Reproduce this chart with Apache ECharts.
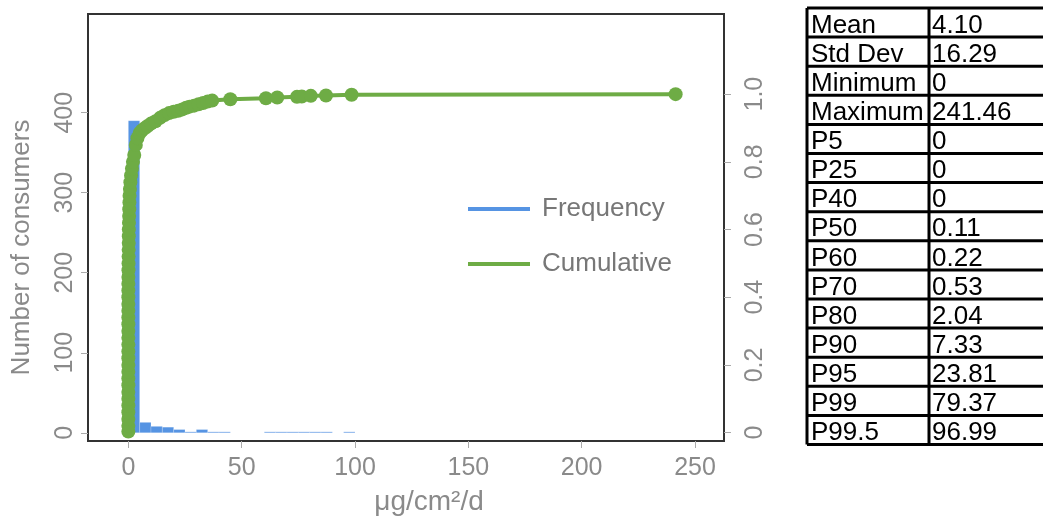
<!DOCTYPE html>
<html>
<head>
<meta charset="utf-8">
<script src="https://cdn.jsdelivr.net/npm/echarts@6/dist/echarts.min.js"></script>
<style>
html,body{margin:0;padding:0;background:#fff;}
#chart{width:1043px;height:517px;}
</style>
</head>
<body>
<div id="chart"></div>
<script>
// ---- Data ----
const binStarts = [0, 5, 10, 15, 20, 25, 30, 35, 40, 60, 65, 70, 75, 80, 85, 95];
const binCounts = [390, 13, 8, 7, 4, 1, 4, 1, 1, 1, 1, 1, 1, 1, 1, 1];
const binWidth = 5;

const cumX = [0, 0, 0, 0, 0, 0, 0, 0, 0, 0, 0, 0, 0, 0, 0, 0, 0, 0, 0, 0, 0, 0, 0,
  0.02, 0.05, 0.08, 0.11, 0.14, 0.17, 0.20, 0.22, 0.28, 0.34, 0.40, 0.47, 0.53, 0.7, 0.9, 1.2, 1.6, 2.04,
  2.6, 3.3, 4.0, 5.0, 6.0, 7.33, 8.5, 10, 12, 14, 16, 18, 20, 22, 23.81, 25.5, 27, 29, 31, 33, 35, 37,
  45, 60.7, 65.7, 74.4, 76.5, 80.5, 87.2, 98.5, 241.46];
const cumY = [0.003, 0.02, 0.04, 0.06, 0.08, 0.10, 0.12, 0.14, 0.16, 0.18, 0.20, 0.22, 0.24, 0.26, 0.28, 0.30, 0.32, 0.34, 0.36, 0.38, 0.40, 0.42, 0.44,
  0.46, 0.48, 0.50, 0.52, 0.54, 0.56, 0.58, 0.60, 0.62, 0.64, 0.66, 0.68, 0.70, 0.72, 0.74, 0.76, 0.78, 0.80,
  0.82, 0.85, 0.87, 0.885, 0.893, 0.90, 0.906, 0.913, 0.92, 0.93, 0.938, 0.944, 0.948, 0.951, 0.955, 0.96, 0.963, 0.966, 0.97, 0.974, 0.978, 0.981,
  0.985, 0.988, 0.990, 0.992, 0.993, 0.995, 0.996, 0.998, 1.0];

const xTicks = [0, 50, 100, 150, 200, 250];
const yLeftTicks = [0, 100, 200, 300, 400];
const yRightTicks = [0, 0.2, 0.4, 0.6, 0.8, 1.0];
const yRightLabels = ['0', '0.2', '0.4', '0.6', '0.8', '1.0'];

const statNames = ['Mean', 'Std Dev', 'Minimum', 'Maximum', 'P5', 'P25', 'P40', 'P50', 'P60', 'P70', 'P80', 'P90', 'P95', 'P99', 'P99.5'];
const statValues = ['4.10', '16.29', '0', '241.46', '0', '0', '0', '0.11', '0.22', '0.53', '2.04', '7.33', '23.81', '79.37', '96.99'];

// ---- Chart ----
const FONT = 'Liberation Sans, Arial, sans-serif';
const BLUE = '#5694e3';
const GREEN = '#6eac45';
const GRAY = '#8a8a8a';

const chart = echarts.init(document.getElementById('chart'));

const cumData = cumX.map((x, i) => [x, cumY[i]]);
const histData = binStarts.map((s, i) => [s, binCounts[i]]);

// table graphics
const tX0 = 807, tX1 = 929, tX2 = 1050, tY0 = 8, rowH = 29.1;
const graphics = [];
for (let i = 0; i <= statNames.length; i++) {
  const y = tY0 + i * rowH;
  graphics.push({type: 'line', shape: {x1: tX0, y1: y, x2: tX2, y2: y}, style: {stroke: '#000', lineWidth: 3}});
}
[tX0, tX1].forEach(x => {
  graphics.push({type: 'line', shape: {x1: x, y1: tY0, x2: x, y2: tY0 + statNames.length * rowH}, style: {stroke: '#000', lineWidth: 3}});
});
statNames.forEach((n, i) => {
  const cy = tY0 + i * rowH + rowH / 2 + 3;
  graphics.push({type: 'text', x: tX0 + 4, y: cy, style: {text: n, fill: '#000', font: '26px ' + FONT, verticalAlign: 'middle', align: 'left'}});
  graphics.push({type: 'text', x: tX1 + 3, y: cy, style: {text: statValues[i], fill: '#000', font: '26px ' + FONT, verticalAlign: 'middle', align: 'left'}});
});

const option = {
  backgroundColor: '#fff',
  animation: false,
  textStyle: {fontFamily: FONT},
  grid: {left: 88, right: 319, top: 14, bottom: 76, show: true, borderColor: '#333', borderWidth: 2,
    backgroundColor: 'transparent', containLabel: false, outerBoundsMode: 'none'},
  legend: {
    data: ['Frequency', 'Cumulative'],
    orient: 'vertical',
    left: 463, top: 191,
    icon: 'rect', itemWidth: 62, itemHeight: 4, itemGap: 29,
    textStyle: {color: '#777', fontSize: 26, fontFamily: FONT, padding: [0, 0, 0, 7]}
  },
  xAxis: {
    type: 'value', min: -17.8, max: 262.8,
    axisLine: {show: false, onZero: false},
    splitLine: {show: false},
    axisTick: {show: true, length: 7, lineStyle: {color: '#aaa'}, customValues: xTicks},
    axisLabel: {color: GRAY, fontSize: 25, margin: 15, customValues: xTicks, fontFamily: FONT},
    name: 'μg/cm²/d', nameLocation: 'middle', nameGap: 47,
    nameTextStyle: {color: GRAY, fontSize: 28, fontFamily: FONT, padding: [0, 0, 0, 46]}
  },
  yAxis: [{
    type: 'value', min: -10.3, max: 523.4, position: 'left',
    axisLine: {show: false, onZero: false},
    splitLine: {show: false},
    axisTick: {show: true, length: 7, lineStyle: {color: '#aaa'}, customValues: yLeftTicks},
    axisLabel: {color: GRAY, fontSize: 25, rotate: 90, margin: 10, customValues: yLeftTicks, fontFamily: FONT},
    name: 'Number of consumers', nameLocation: 'middle', nameGap: 53,
    nameTextStyle: {color: GRAY, fontSize: 26, fontFamily: FONT, padding: [0, 40, 0, 0]}
  }, {
    type: 'value', min: -0.0248, max: 1.2368, position: 'right',
    axisLine: {show: false, onZero: false},
    splitLine: {show: false},
    axisTick: {show: true, length: 7, lineStyle: {color: '#aaa'}, customValues: yRightTicks},
    axisLabel: {color: GRAY, fontSize: 25, rotate: 90, margin: 19, customValues: yRightTicks, fontFamily: FONT,
      formatter: v => yRightLabels[yRightTicks.findIndex(t => Math.abs(t - v) < 1e-6)]}
  }],
  series: [{
    name: 'Frequency',
    type: 'custom',
    yAxisIndex: 0,
    itemStyle: {color: BLUE},
    encode: {x: 0, y: 1},
    data: histData,
    renderItem: function (params, api) {
      const s = api.value(0), c = api.value(1);
      const p0 = api.coord([s, c]);
      const p1 = api.coord([s + binWidth, 0]);
      const h = Math.max(p1[1] - p0[1], 0.9);
      return {
        type: 'rect',
        shape: {x: p0[0], y: p1[1] - h, width: p1[0] - p0[0], height: h},
        style: {fill: BLUE, stroke: 'rgba(255,255,255,0.35)', lineWidth: 0.6}
      };
    },
    z: 2
  }, {
    name: 'Cumulative',
    type: 'line',
    yAxisIndex: 1,
    data: cumData,
    symbol: 'circle',
    symbolSize: 14,
    showAllSymbol: true,
    itemStyle: {color: GREEN},
    lineStyle: {color: GREEN, width: 4},
    z: 3
  }],
  graphic: graphics
};
chart.setOption(option);
</script>
</body>
</html>
